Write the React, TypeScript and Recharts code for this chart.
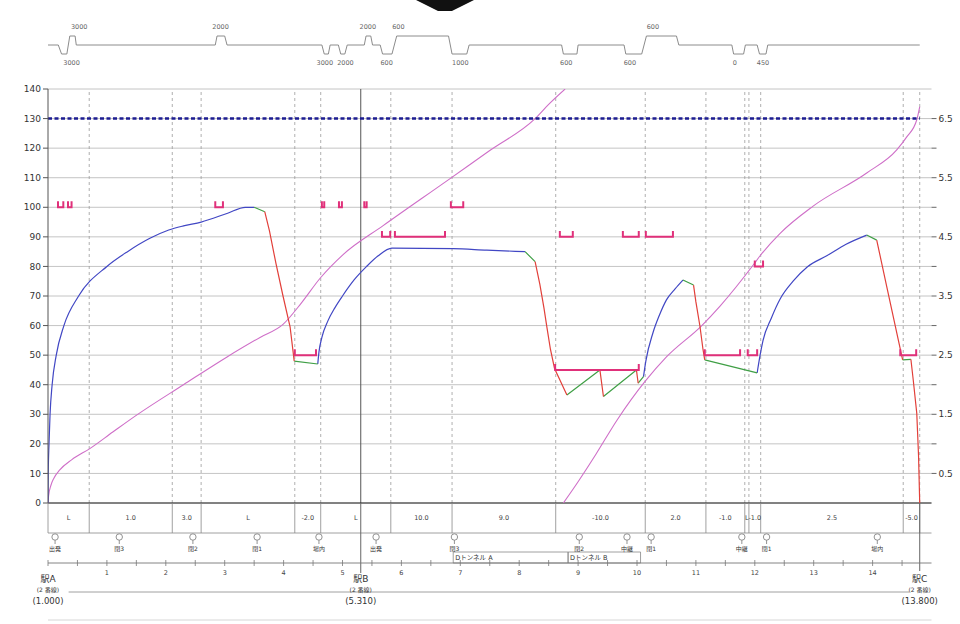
import React from 'react';
import {
  ComposedChart, Line, Scatter, XAxis, YAxis, CartesianGrid, ReferenceLine, ReferenceArea,
} from 'recharts';

const FONT = '"DejaVu Sans", "Noto Sans CJK JP", sans-serif';

// half-kilometre grid and labelled kilometre ticks
const gridKm = [0, 0.5, 1, 1.5, 2, 2.5, 3, 3.5, 4, 4.5, 5, 5.5, 6, 6.5, 7, 7.5, 8, 8.5, 9, 9.5, 10, 10.5, 11, 11.5, 12, 12.5, 13, 13.5, 14, 14.5, 15];
const kmTicks = [0, 0.5, 1, 1.5, 2, 2.5, 3, 3.5, 4, 4.5, 5, 5.5, 6, 6.5, 7, 7.5, 8, 8.5, 9, 9.5, 10, 10.5, 11, 11.5, 12, 12.5, 13, 13.5, 14, 14.5];
const kmLabels = [1, 2, 3, 4, 5, 6, 7, 8, 9, 10, 11, 12, 13, 14];

// left axis speed (km/h), right axis running time (min)
const speedTicks = [0, 10, 20, 30, 40, 50, 60, 70, 80, 90, 100, 110, 120, 130, 140];
const timeTicks = [0.5, 1, 1.5, 2, 2.5, 3, 3.5, 4, 4.5, 5, 5.5, 6, 6.5];

const lineSpeed = 130;

// run curve, [km, km/h]
const powerRuns = [
  [[0, 0], [0.004, 10], [0.017, 20], [0.035, 30], [0.07, 40], [0.14, 50], [0.27, 60], [0.52, 70], [1.0, 80], [1.35, 85], [1.73, 89.5], [2.05, 92.3], [2.3, 93.7], [2.6, 95], [3.05, 98], [3.35, 100], [3.5, 100]],
  [[4.58, 47], [4.6, 51], [4.65, 56], [4.75, 61.5], [4.87, 66], [5.0, 70], [5.2, 75.5], [5.41, 80], [5.6, 83.5], [5.84, 86.2], [6.88, 86], [7.45, 85.5], [8.1, 85]],
  [[10.11, 42.7], [10.15, 48], [10.27, 57.5], [10.38, 63.5], [10.5, 68.7], [10.65, 72.5], [10.78, 75.4]],
  [[12.04, 44], [12.09, 50], [12.14, 55], [12.28, 62.5], [12.43, 69], [12.65, 75], [12.89, 79.8], [13.23, 83.7], [13.55, 87.5], [13.9, 90.6]],
];
const coastRuns = [
  [[3.5, 100], [3.68, 98.5]],
  [[4.18, 48], [4.58, 47]],
  [[8.1, 85], [8.27, 81.6]],
  [[8.81, 36.5], [9.37, 45]],
  [[9.43, 36], [9.99, 45]],
  [[10.02, 40.5], [10.11, 42.7]],
  [[10.78, 75.4], [10.96, 73.7]],
  [[11.15, 48.4], [12.04, 44]],
  [[13.9, 90.6], [14.07, 88.9]],
  [[14.51, 48.4], [14.65, 48.6]],
];
const brakeRuns = [
  [[3.68, 98.5], [3.76, 92], [3.87, 81], [3.99, 70], [4.11, 59.6], [4.18, 48]],
  [[8.27, 81.6], [8.35, 74], [8.42, 66], [8.47, 59.5], [8.53, 52], [8.6, 45.5], [8.81, 36.5]],
  [[9.37, 45], [9.43, 36]],
  [[9.99, 45], [10.02, 40.5]],
  [[10.96, 73.7], [11.0, 68], [11.07, 59.6], [11.12, 52], [11.15, 48.4]],
  [[14.07, 88.9], [14.24, 73.2], [14.51, 48.4]],
  [[14.65, 48.6], [14.69, 41.6], [14.75, 30.3], [14.78, 16], [14.8, 0]],
];

// running time [km, min], wraps after 7 min
const timeRuns = [
  [[0, 0], [0.01, 0.12], [0.05, 0.3], [0.1, 0.42], [0.2, 0.56], [0.4, 0.73], [0.71, 0.92], [1.1, 1.2], [1.51, 1.49], [2.3, 2.0], [3.04, 2.47], [3.6, 2.8], [3.99, 3.02], [4.3, 3.38], [4.62, 3.8], [5.01, 4.2], [5.69, 4.69], [6.79, 5.46], [7.5, 5.96], [8.27, 6.5], [8.5, 6.74], [8.78, 7.0]],
  [[8.75, 0], [9.0, 0.36], [9.3, 0.82], [9.66, 1.4], [10.14, 2.06], [10.5, 2.47], [11.1, 3.0], [11.41, 3.33], [11.97, 4.02], [12.09, 4.18], [12.43, 4.56], [12.99, 5.02], [13.9, 5.58], [14.41, 5.97], [14.58, 6.19], [14.75, 6.48], [14.8, 6.7]],
];

// speed restrictions [from km, to km, km/h]
const limitSteps = [
  [0.17, 0.26, 100], [0.34, 0.4, 100], [2.84, 2.97, 100], [4.65, 4.69, 100], [4.94, 4.99, 100], [5.37, 5.41, 100], [6.84, 7.05, 100],
  [5.67, 5.81, 90], [5.89, 6.74, 90], [8.69, 8.91, 90], [9.76, 10.03, 90], [10.15, 10.61, 90],
  [12.0, 12.14, 80],
  [4.19, 4.55, 50], [11.15, 11.75, 50], [11.88, 12.04, 50], [14.47, 14.74, 50],
  [8.61, 10.03, 45],
];

// gradients
const gradeBreaks = [0, 0.7, 2.11, 2.6, 4.19, 4.63, 5.82, 6.86, 8.62, 10.14, 11.17, 11.83, 11.9, 12.1, 14.52, 14.8];
const gradeLabels = ['L', '1.0', '3.0', 'L', '-2.0', 'L', '10.0', '9.0', '-10.0', '2.0', '-1.0', 'L', '-1.0', '2.5', '-5.0'];

// signals
const signalKm = [0.12, 1.21, 2.46, 3.55, 4.6, 5.57, 6.9, 9.02, 9.83, 10.24, 11.78, 12.2, 14.08];
const signalNames = ['出発', '閉3', '閉2', '閉1', '場内', '出発', '閉3', '閉2', '中継', '閉1', '中継', '閉1', '場内'];

const tunnels = [
  { from: 6.88, to: 8.83, name: 'Dトンネル A' },
  { from: 8.83, to: 10.06, name: 'Dトンネル B' },
];

const stationKm = [0, 5.31, 14.8];
const stationNames = ['駅A', '駅B', '駅C'];
const stationTracks = ['(2 番線)', '(2 番線)', '(2 番線)'];
const stationPosts = ['(1.000)', '(5.310)', '(13.800)'];

// curve profile: [km, direction] (+1 left, -1 right)
const curveProfile = [
  [0, 0], [0.175, 0], [0.23, -1], [0.32, -1], [0.37, 1], [0.46, 1], [0.48, 0],
  [2.84, 0], [2.87, 1], [3.0, 1], [3.04, 0],
  [4.65, 0], [4.69, -1], [4.76, -1], [4.79, 0],
  [4.93, 0], [4.97, -1], [5.04, -1], [5.08, 0],
  [5.37, 0], [5.4, 1], [5.48, 1], [5.51, 0],
  [5.64, 0], [5.68, -1], [5.84, -1], [5.92, 1], [6.8, 1], [6.86, -1], [7.11, -1], [7.15, 0],
  [8.72, 0], [8.75, -1], [8.98, -1], [9.0, 0],
  [9.78, 0], [9.81, -1], [10.08, -1], [10.16, 1], [10.67, 1], [10.71, 0],
  [11.61, 0], [11.64, -1], [11.81, -1], [11.84, 0],
  [12.04, 0], [12.08, -1], [12.19, -1], [12.22, 0],
  [14.8, 0],
];
const curveLabelKm = [0.4, 0.53, 2.93, 4.7, 5.05, 5.43, 5.75, 5.95, 7.0, 8.8, 9.88, 10.27, 11.66, 12.14];
const curveLabelSide = [-1, 1, 1, -1, -1, 1, -1, 1, -1, -1, -1, 1, -1, -1];
const curveRadii = ['3000', '3000', '2000', '3000', '2000', '2000', '600', '600', '1000', '600', '600', '600', '0', '450'];

const toSeries = (runs: number[][][], key: string) =>
  runs.flatMap((run, i) => [
    ...run.map(([x, y]) => ({ x, [key]: y })),
    ...(i < runs.length - 1 ? [{ x: run[run.length - 1][0], [key]: null }] : []),
  ]);

const powerData = toSeries(powerRuns, 'v');
const coastData = toSeries(coastRuns, 'v');
const brakeData = toSeries(brakeRuns, 'v');
const timeData = toSeries(timeRuns, 'm');
const limitData = limitSteps.flatMap(([a, b, v]) => [
  { x: a, v: v + 2 }, { x: a, v }, { x: b, v }, { x: b, v: v + 2 }, { x: b, v: null },
]);

// lower panel rows (px below the zero line)
const BAND_Y = 30;
const SIGNAL_Y = 34;
const TUNNEL_Y = 49;
const KM_Y = 60;

const profileData = curveProfile.map(([x, d]) => ({ x, y: d }));
const curveLabelData = curveLabelKm.map((x, i) => ({ x, y: curveLabelSide[i] * 2, t: curveRadii[i] }));
const gradeLabelData = gradeLabels.map((t, i) => ({ x: (gradeBreaks[i] + gradeBreaks[i + 1]) / 2, y: BAND_Y / 2, t }));
const signalData = signalKm.map((x, i) => ({ x, y: SIGNAL_Y, t: signalNames[i] }));
const kmTickData = kmTicks.map((x) => ({ x, y: KM_Y }));
const kmLabelData = kmLabels.map((x) => ({ x, y: KM_Y + 10, t: String(x) }));
const tunnelLabelData = tunnels.map((t) => ({ x: t.from, y: TUNNEL_Y + 6, t: t.name }));
const stationLabelData = stationKm.flatMap((x, i) => [
  { x, y: 76, t: stationNames[i], s: 9 },
  { x, y: 86, t: stationTracks[i], s: 6 },
  { x, y: 98, t: stationPosts[i], s: 8.5 },
]);

const TextMark = (size: number, fill: string, anchor = 'middle', dx = 0) => (p: any) => (
  <text x={p.cx + dx} y={p.cy} textAnchor={anchor} dominantBaseline="central" fontSize={size} fill={fill} fontFamily={FONT}>
    {p.payload.t}
  </text>
);

const SignalMark = (p: any) => (
  <g>
    <circle cx={p.cx} cy={p.cy} r={3.2} fill="#fff" stroke="#777" strokeWidth={0.8} />
    <line x1={p.cx} x2={p.cx} y1={p.cy + 3.2} y2={p.cy + 7} stroke="#777" strokeWidth={0.8} />
    <text x={p.cx} y={p.cy + 11} textAnchor="middle" dominantBaseline="central" fontSize={6} fill="#333" fontFamily={FONT}>
      {p.payload.t}
    </text>
  </g>
);

const TickMark = (p: any) => (
  <line x1={p.cx} x2={p.cx} y1={p.cy - 3} y2={p.cy + 3} stroke="#777" strokeWidth={0.8} />
);

const StationText = (p: any) => (
  <text x={p.cx} y={p.cy} textAnchor="middle" dominantBaseline="central" fontSize={p.payload.s} fill="#333" fontFamily={FONT}>
    {p.payload.t}
  </text>
);

const lineProps = { dot: false, activeDot: false, isAnimationActive: false, connectNulls: false } as const;

export default function App() {
  return (
    <div style={{ position: 'absolute', left: 0, top: 0, width: 960, height: 624, background: '#fff', overflow: 'hidden' }}>
      <div style={{ position: 'absolute', left: 416, top: 0, width: 58, height: 11, background: '#111', clipPath: 'polygon(0 0, 100% 0, 62% 100%, 38% 100%)' }} />

      {/* curve profile */}
      <div style={{ position: 'absolute', left: 0, top: 15 }}>
        <ComposedChart width={960} height={60} margin={{ top: 0, right: 28.5, bottom: 0, left: 48 }}>
          <XAxis dataKey="x" type="number" domain={[0, 15]} hide />
          <YAxis dataKey="y" type="number" domain={[-10 / 3, 10 / 3]} hide />
          <Line data={profileData} dataKey="y" type="linear" stroke="#8c8c8c" strokeWidth={1} {...lineProps} />
          <Scatter data={curveLabelData} dataKey="y" shape={TextMark(6.5, '#666')} isAnimationActive={false} />
        </ComposedChart>
      </div>

      {/* run curve */}
      <div style={{ position: 'absolute', left: 0, top: 80 }}>
        <ComposedChart width={960} height={430} margin={{ top: 9, right: 0.5, bottom: 7, left: 8 }}>
          <CartesianGrid yAxisId="spd" stroke="#b5b5b5" strokeWidth={0.8} verticalValues={gridKm} horizontalValues={speedTicks} />
          <XAxis dataKey="x" type="number" domain={[0, 15]} ticks={gridKm} interval={0} tick={false} tickLine={false} axisLine={false} height={0} allowDataOverflow />
          <YAxis
            yAxisId="spd" type="number" domain={[0, 140]} ticks={speedTicks} interval={0} width={40} tickSize={5}
            tick={{ fontSize: 9, fill: '#333', fontFamily: FONT }} tickLine={{ stroke: '#555' }} axisLine={{ stroke: '#555' }} allowDataOverflow
          />
          <YAxis
            yAxisId="min" orientation="right" type="number" domain={[0, 7]} ticks={timeTicks} interval={0} width={28} tickSize={5}
            tickFormatter={(t: number) => (Number.isInteger(t) ? '' : t.toFixed(1))}
            tick={{ fontSize: 9, fill: '#333', fontFamily: FONT }} tickLine={{ stroke: '#666' }} axisLine={false} allowDataOverflow
          />
          {gradeBreaks.slice(1).map((k) => (
            <ReferenceLine key={`g${k}`} yAxisId="spd" x={k} stroke="#9a9a9a" strokeWidth={0.8} strokeDasharray="3 3" />
          ))}
          <ReferenceLine yAxisId="spd" x={stationKm[1]} stroke="#555" strokeWidth={1} />
          <ReferenceLine yAxisId="spd" y={0} stroke="#222" strokeWidth={1.2} />
          <Line yAxisId="min" data={timeData} dataKey="m" type="monotone" stroke="#cf6fc8" strokeWidth={1.1} {...lineProps} />
          <Line yAxisId="spd" data={powerData} dataKey="v" type="monotone" stroke="#4147c4" strokeWidth={1.2} {...lineProps} />
          <Line yAxisId="spd" data={coastData} dataKey="v" type="linear" stroke="#3f9f45" strokeWidth={1.2} {...lineProps} />
          <Line yAxisId="spd" data={brakeData} dataKey="v" type="linear" stroke="#e2403a" strokeWidth={1.2} {...lineProps} />
          <Line yAxisId="spd" data={limitData} dataKey="v" type="linear" stroke="#e0307a" strokeWidth={2} {...lineProps} />
          <ReferenceLine
            yAxisId="spd"
            segment={[{ x: 0, y: lineSpeed }, { x: stationKm[2], y: lineSpeed }]}
            stroke="#1d1d92" strokeWidth={2.6} strokeDasharray="4 2.5"
          />
        </ComposedChart>
      </div>

      {/* gradients, signals, km axis, stations */}
      <div style={{ position: 'absolute', left: 0, top: 503 }}>
        <ComposedChart width={960} height={120} margin={{ top: 0, right: 28.5, bottom: 0, left: 48 }}>
          <XAxis dataKey="x" type="number" domain={[0, 15]} hide />
          <YAxis dataKey="y" type="number" domain={[0, 120]} reversed hide />
          <ReferenceLine y={BAND_Y} stroke="#888" strokeWidth={0.8} />
          {gradeBreaks.map((k) => (
            <ReferenceLine key={`d${k}`} segment={[{ x: k, y: 0 }, { x: k, y: BAND_Y }]} stroke="#888" strokeWidth={0.8} />
          ))}
          <ReferenceLine segment={[{ x: stationKm[1], y: 0 }, { x: stationKm[1], y: 70 }]} stroke="#666" strokeWidth={1} />
          <ReferenceLine segment={[{ x: stationKm[2], y: 0 }, { x: stationKm[2], y: 68 }]} stroke="#666" strokeWidth={1} />
          {tunnels.map((t) => (
            <ReferenceArea key={t.name} x1={t.from} x2={t.to} y1={TUNNEL_Y} y2={KM_Y} fill="none" stroke="#888" strokeWidth={0.8} ifOverflow="visible" />
          ))}
          <ReferenceLine y={KM_Y} stroke="#777" strokeWidth={0.9} />
          <ReferenceLine segment={[{ x: 0.35, y: 89 }, { x: 14.62, y: 89 }]} stroke="#888" strokeWidth={0.8} />
          <ReferenceLine y={117} stroke="#ccc" strokeWidth={0.8} />
          <Scatter data={gradeLabelData} dataKey="y" shape={TextMark(6.5, '#444')} isAnimationActive={false} />
          <Scatter data={signalData} dataKey="y" shape={SignalMark} isAnimationActive={false} />
          <Scatter data={tunnelLabelData} dataKey="y" shape={TextMark(6.5, '#333', 'start', 2)} isAnimationActive={false} />
          <Scatter data={kmTickData} dataKey="y" shape={TickMark} isAnimationActive={false} />
          <Scatter data={kmLabelData} dataKey="y" shape={TextMark(6.5, '#444')} isAnimationActive={false} />
          <Scatter data={stationLabelData} dataKey="y" shape={StationText} isAnimationActive={false} />
        </ComposedChart>
      </div>
    </div>
  );
}
